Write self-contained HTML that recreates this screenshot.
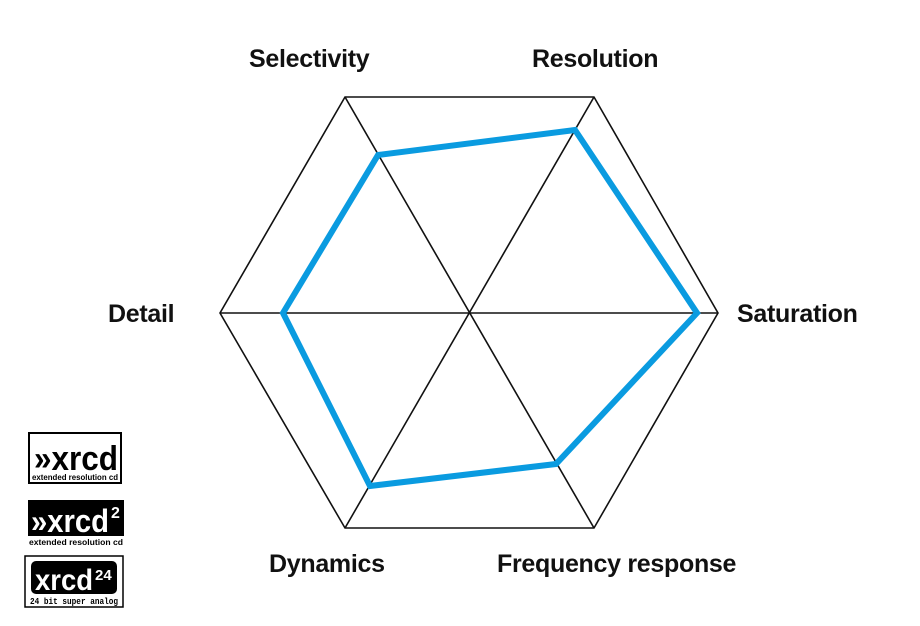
<!DOCTYPE html>
<html><head><style>
body{margin:0;background:#fff;width:920px;height:626px;overflow:hidden;position:relative;font-family:"Liberation Sans",sans-serif}
.l{position:absolute;font-weight:bold;font-size:25px;color:#111;white-space:nowrap;letter-spacing:-0.3px}
</style></head><body>
<svg width="920" height="626" style="position:absolute;left:0;top:0">
<g stroke="#111" stroke-width="1.6" fill="none">
<polygon points="345,97 594,97 718,313 594,528 345,528 220,313"/>
<line x1="345" y1="97" x2="594" y2="528"/>
<line x1="594" y1="97" x2="345" y2="528"/>
<line x1="220" y1="313" x2="718" y2="313"/>
</g>
<polygon points="378,155 575,130 697,313 556,464 370,486 283,313" fill="none" stroke="#0a9be0" stroke-width="6"/>
<rect x="29" y="433" width="92" height="50" fill="#fff" stroke="#000" stroke-width="2"/>
<text x="34" y="470" font-family="Liberation Sans" font-weight="bold" font-size="34" fill="#000" textLength="84" lengthAdjust="spacingAndGlyphs">»xrcd</text>
<text x="32" y="480" font-family="Liberation Sans" font-weight="bold" font-size="8.5" fill="#000" textLength="86" lengthAdjust="spacingAndGlyphs">extended resolution cd</text>
<rect x="28" y="500" width="96" height="36" fill="#000"/>
<text x="31" y="532" font-family="Liberation Sans" font-weight="bold" font-size="32" fill="#fff" textLength="78" lengthAdjust="spacingAndGlyphs">»xrcd</text>
<text x="111" y="518" font-family="Liberation Sans" font-weight="bold" font-size="16" fill="#fff">2</text>
<text x="29" y="545" font-family="Liberation Sans" font-weight="bold" font-size="8.5" fill="#000" textLength="94" lengthAdjust="spacingAndGlyphs">extended resolution cd</text>
<rect x="25" y="556" width="98" height="51" fill="#fff" stroke="#000" stroke-width="1.5"/>
<rect x="31" y="561" width="86" height="33" rx="5" fill="#000"/>
<text x="35" y="590" font-family="Liberation Sans" font-weight="bold" font-size="30" fill="#fff" textLength="58" lengthAdjust="spacingAndGlyphs">xrcd</text>
<text x="95" y="580" font-family="Liberation Sans" font-weight="bold" font-size="15" fill="#fff">24</text>
<text x="30" y="604" font-family="Liberation Mono" font-weight="bold" font-size="9" fill="#000" textLength="88" lengthAdjust="spacingAndGlyphs">24 bit super analog</text>
</svg>
<div class="l" style="left:249px;top:45px">Selectivity</div>
<div class="l" style="left:532px;top:45px">Resolution</div>
<div class="l" style="left:108px;top:300px">Detail</div>
<div class="l" style="left:737px;top:300px">Saturation</div>
<div class="l" style="left:269px;top:550px">Dynamics</div>
<div class="l" style="left:497px;top:550px">Frequency response</div>
</body></html>
